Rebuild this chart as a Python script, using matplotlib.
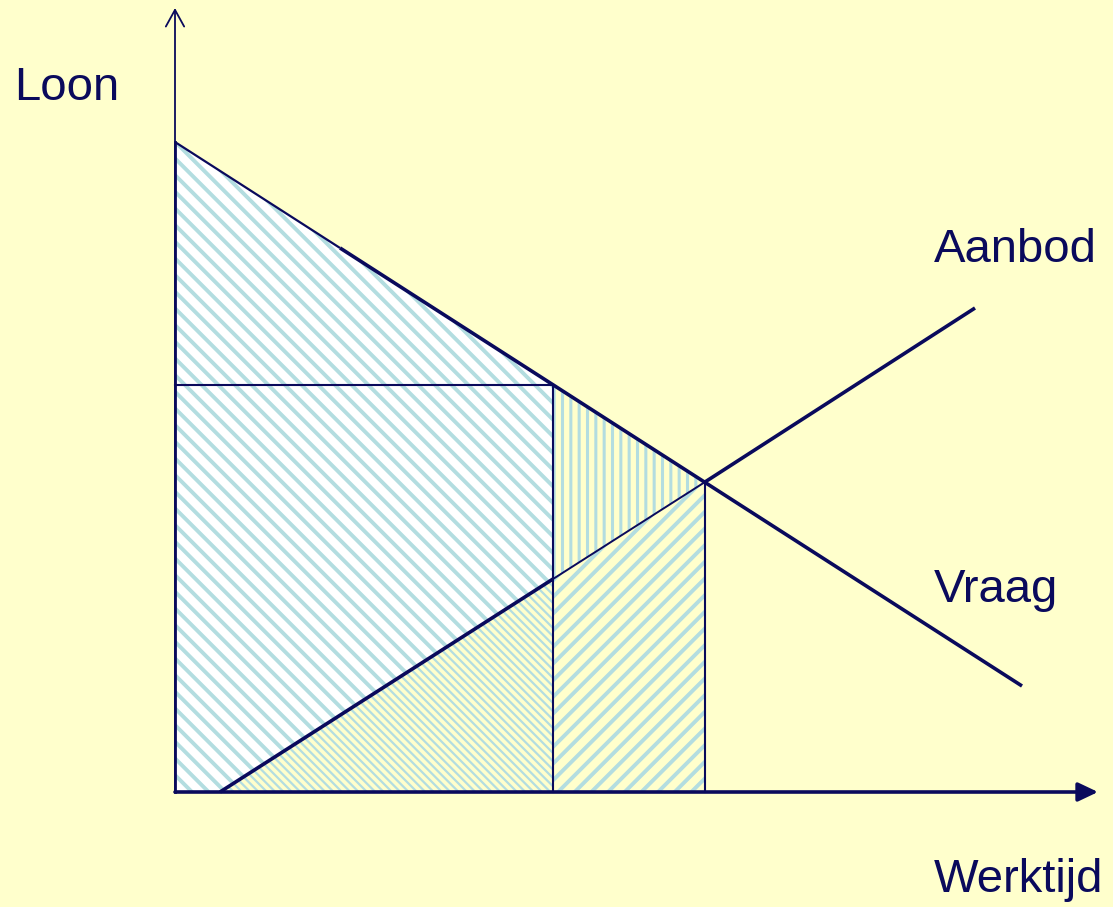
import numpy as np
import matplotlib
matplotlib.use("Agg")
import matplotlib.pyplot as plt
from matplotlib.patches import Polygon

# ---- data (chart units: quantity / wage) ----
demand_q = [0.0, 8.47]
demand_w = [6.50, 1.06]
supply_q = [0.45, 8.00]
supply_w = [0.00, 4.84]
q1, w1 = 3.78, 4.07          # quantity limit and demand price
s1 = 2.13                    # supply price at q1
q_eq, w_eq = 5.30, 3.10      # equilibrium
labels = {"Loon": (-1.61, 6.92), "Aanbod": (7.59, 5.30), "Vraag": (7.59, 1.90), "Werktijd": (7.59, -1.00)}

BG = "#FFFFCC"
NAVY = "#0a0a5c"
STRIPE = "#b3dde0"

fig = plt.figure(figsize=(11.13, 9.07), dpi=100)
fig.patch.set_facecolor(BG)
ax = fig.add_axes([0, 0, 1, 1])
ax.set_facecolor(BG)
ax.set_xlim(-1.75, 9.38)
ax.set_ylim(-1.15, 7.92)
ax.axis("off")

def region(pts, face, hatch, hlw):
    with plt.rc_context({"hatch.linewidth": hlw}):
        p = Polygon(pts, closed=True, facecolor=face, edgecolor=STRIPE, hatch=hatch, lw=0)
        if hasattr(p, "set_hatch_linewidth"):
            p.set_hatch_linewidth(hlw)
    ax.add_patch(p)

# consumer surplus triangle + rectangle above supply (white with \\ stripes)
region([(0, demand_w[0]), (0, 0), (supply_q[0], 0), (q1, s1), (q1, w1)], "white", "\\\\", 2.8)
# producer triangle below supply up to q1 (fine stripes)
region([(supply_q[0], 0), (q1, s1), (q1, 0)], BG, "\\\\\\\\", 1.6)
# deadweight upper triangle (vertical stripes)
region([(q1, w1), (q_eq, w_eq), (q1, s1)], BG, "||", 2.2)
# lower part between q1 and q_eq (/ stripes)
region([(q1, 0), (q1, s1), (q_eq, w_eq), (q_eq, 0)], BG, "//", 2.8)

# demand line: thin then thick
qd_break = 1.65
wd_break = np.interp(qd_break, demand_q, demand_w)
ax.plot([demand_q[0], qd_break], [demand_w[0], wd_break], color=NAVY, lw=1.6, solid_capstyle="butt")
ax.plot([qd_break, demand_q[1]], [wd_break, demand_w[1]], color=NAVY, lw=2.6, solid_capstyle="butt")

# supply line: thick, thin, thick
ax.plot([supply_q[0], q1], [supply_w[0], s1], color=NAVY, lw=2.6, solid_capstyle="butt")
ax.plot([q1, q_eq], [s1, w_eq], color=NAVY, lw=1.4, solid_capstyle="butt")
ax.plot([q_eq, supply_q[1]], [w_eq, supply_w[1]], color=NAVY, lw=2.6, solid_capstyle="butt")

# helper lines
ax.plot([0, q1], [w1, w1], color=NAVY, lw=1.5)
ax.plot([q1, q1], [0, w1], color=NAVY, lw=1.5)
ax.plot([q_eq, q_eq], [0, w_eq], color=NAVY, lw=1.5)
ax.plot([0, 0], [0, demand_w[0]], color=NAVY, lw=2.0)

# axes arrows
ax.annotate("", xy=(0, 7.84), xytext=(0, 0),
            arrowprops=dict(arrowstyle="->,head_length=0.4,head_width=0.22", lw=1.3, color=NAVY,
                            mutation_scale=30, shrinkA=0, shrinkB=0))
ax.annotate("", xy=(9.23, 0), xytext=(0, 0),
            arrowprops=dict(arrowstyle="-|>,head_length=0.4,head_width=0.19", lw=2.6, color=NAVY,
                            mutation_scale=30, shrinkA=0, shrinkB=0))

for txt, (x, y) in labels.items():
    ax.text(x, y, txt, fontsize=34, color=NAVY, family="Liberation Sans", ha="left", va="baseline")

fig.savefig("out.png", dpi=100, facecolor=BG)
